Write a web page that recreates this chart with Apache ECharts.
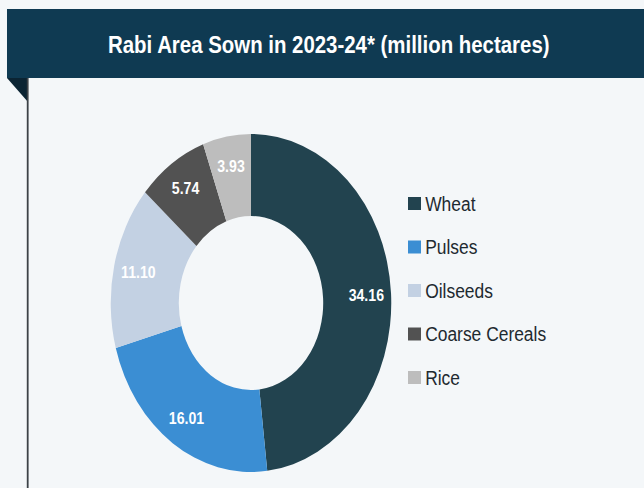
<!DOCTYPE html>
<html>
<head>
<meta charset="utf-8">
<script src="https://cdn.jsdelivr.net/npm/echarts@6/dist/echarts.min.js"></script>
<style>
  html, body { margin: 0; padding: 0; background: #f4f7f9; }
  #wrap { width: 644px; height: 488px; overflow: hidden; background: #f4f7f9; }
  /* the source picture is squeezed horizontally, so the chart is drawn wider and squeezed back */
  #main { width: 776px; height: 488px; transform: scaleX(0.83); transform-origin: 0 0; }
</style>
</head>
<body>
<div id="wrap"><div id="main"></div></div>
<script>
const crops = ['Wheat', 'Pulses', 'Oilseeds', 'Coarse Cereals', 'Rice'];
const areaSown = [34.16, 16.01, 11.10, 5.74, 3.93];
const cropColors = ['#22434f', '#3b8ed3', '#c3d1e3', '#525252', '#bdbdbd'];

const sx = 0.83; // horizontal squeeze
const X = function (px) { return px / sx; };

const pieCenter = [X(251), 303];
const rInner = 87, rOuter = 169;
const labelR = 136; // labels sit a bit outside the ring's middle

const chart = echarts.init(document.getElementById('main'), null, { renderer: 'svg' });

const option = {
  backgroundColor: '#f4f7f9',
  animation: false,
  title: {
    text: 'Rabi Area Sown in 2023-24* (million hectares)',
    left: X(108),
    top: 32,
    padding: 0,
    textStyle: {
      color: '#ffffff',
      fontSize: 24.6,
      fontWeight: 'bold',
      fontFamily: '"Liberation Sans", Arial, sans-serif'
    }
  },
  graphic: [
    { type: 'rect', z: -1, shape: { x: X(7), y: 9, width: X(644), height: 69 }, style: { fill: '#0f3a52' } },
    { type: 'polygon', z: -1, shape: { points: [[X(7), 78], [X(28), 78], [X(28), 102]] }, style: { fill: '#0b2433' } },
    { type: 'rect', z: -1, shape: { x: X(26.8), y: 78, width: X(1.8), height: 420 }, style: { fill: '#3c4247' } }
  ],
  legend: {
    orient: 'vertical',
    left: X(408),
    top: 193,
    padding: 0,
    itemWidth: X(13),
    itemHeight: 13,
    itemGap: 22.5,
    icon: 'rect',
    data: crops,
    textStyle: {
      color: '#1e2a30',
      fontSize: 21,
      fontFamily: '"Liberation Sans", Arial, sans-serif'
    }
  },
  series: [{
    name: 'Area sown',
    type: 'pie',
    center: pieCenter,
    radius: [rInner, rOuter],
    startAngle: 90,
    clockwise: true,
    avoidLabelOverlap: false,
    color: cropColors,
    label: {
      show: true,
      position: 'inside',
      color: '#ffffff',
      fontSize: 17,
      fontWeight: 'bold',
      fontFamily: '"Liberation Sans", Arial, sans-serif',
      formatter: function (p) { return p.value.toFixed(2); }
    },
    labelLayout: function (p) {
      const k = labelR / ((rInner + rOuter) / 2);
      const lx = p.labelRect.x + p.labelRect.width / 2;
      const ly = p.labelRect.y + p.labelRect.height / 2;
      return {
        x: pieCenter[0] + (lx - pieCenter[0]) * k,
        y: pieCenter[1] + (ly - pieCenter[1]) * k,
        align: 'center',
        verticalAlign: 'middle'
      };
    },
    labelLine: { show: false },
    emphasis: { disabled: true },
    data: crops.map(function (c, i) { return { name: c, value: areaSown[i] }; })
  }]
};

chart.setOption(option);
</script>
</body>
</html>
